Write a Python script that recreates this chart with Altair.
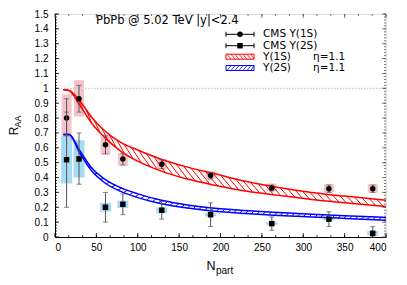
import altair as alt
import pandas as pd
import numpy as np

# ---------------- data ----------------
npart = [14, 29, 61, 82, 129, 188, 262, 331, 384]

raa_1s = [0.80, 0.93, 0.62, 0.525, 0.49, 0.413, 0.33, 0.325, 0.325]
stat_lo_1s = [0.68, 0.84, 0.56, 0.485, 0.46, 0.39, 0.31, 0.30, 0.30]
stat_hi_1s = [0.93, 1.02, 0.68, 0.56, 0.52, 0.435, 0.35, 0.35, 0.35]
sys_lo_1s = [0.64, 0.81, 0.553, 0.48, 0.453, 0.39, 0.307, 0.298, 0.298]
sys_hi_1s = [0.96, 1.055, 0.69, 0.565, 0.525, 0.44, 0.36, 0.355, 0.355]

raa_2s = [0.52, 0.525, 0.20, 0.22, 0.18, 0.15, 0.09, 0.12, 0.025]
stat_lo_2s = [0.20, 0.355, 0.10, 0.15, 0.12, 0.07, 0.045, 0.07, 0.0]
stat_hi_2s = [0.84, 0.70, 0.30, 0.29, 0.24, 0.23, 0.135, 0.17, 0.07]
sys_lo_2s = [0.36, 0.40, 0.17, 0.195, 0.16, 0.14, 0.08, 0.11, 0.01]
sys_hi_2s = [0.68, 0.65, 0.23, 0.245, 0.20, 0.16, 0.10, 0.13, 0.04]

band_x = [10, 17, 30, 45, 60, 80, 100, 130, 160, 190, 230, 270, 310, 350, 400]
band_1s_up = [0.99, 0.985, 0.915, 0.80, 0.715, 0.635, 0.585, 0.52, 0.47, 0.43, 0.375, 0.333, 0.30, 0.275, 0.247]
band_1s_lo = [0.99, 0.985, 0.885, 0.76, 0.67, 0.575, 0.51, 0.44, 0.39, 0.352, 0.31, 0.28, 0.252, 0.23, 0.205]
band_2s_up = [0.69, 0.69, 0.58, 0.46, 0.39, 0.33, 0.29, 0.245, 0.215, 0.195, 0.178, 0.165, 0.153, 0.143, 0.132]
band_2s_lo = [0.69, 0.69, 0.565, 0.44, 0.365, 0.305, 0.265, 0.222, 0.195, 0.175, 0.158, 0.145, 0.135, 0.125, 0.112]

y_major = [round(0.1 * i, 1) for i in range(16)]
y_minor = [round(0.02 * i, 2) for i in range(76)]
x_major = [0, 50, 100, 150, 200, 250, 300, 350, 400]
x_minor = [50 * i / 3 for i in range(25)]

title_text = "PbPb @ 5.02 TeV |y|<2.4"
leg_labels = ["CMS \u03a5(1S)", "CMS \u03a5(2S)", "\u03a5(1S)", "\u03a5(2S)"]
eta_label = "\u03b7=1.1"

# ---------------- layout ----------------
W, H = 331, 223
XMAX, YMAX = 400, 1.5
FONT = "Liberation Sans"
FONT2 = "DejaVu Sans"
RED = "#ff0000"
BLUE = "#0000ff"

xs = alt.Scale(domain=[0, XMAX], nice=False, zero=False, padding=0)
ys = alt.Scale(domain=[0, YMAX], nice=False, zero=False, padding=0)
x_axis = alt.Axis(values=x_major, format="d", ticks=False, grid=False, domainColor="black",
                  domainWidth=1, labelFont=FONT, labelFontSize=10, labelColor="black",
                  labelPadding=5, title=None)
y_axis = alt.Axis(values=y_major, format=".1~f", ticks=False, grid=False, domainColor="black",
                  domainWidth=1, labelFont=FONT, labelFontSize=10, labelColor="black",
                  labelPadding=7, title=None)

pts1 = pd.DataFrame(dict(x=npart, y=raa_1s, slo=stat_lo_1s, shi=stat_hi_1s, blo=sys_lo_1s, bhi=sys_hi_1s))
pts2 = pd.DataFrame(dict(x=npart, y=raa_2s, slo=stat_lo_2s, shi=stat_hi_2s, blo=sys_lo_2s, bhi=sys_hi_2s))
band = pd.DataFrame(dict(x=band_x, u1=band_1s_up, l1=band_1s_lo, u2=band_2s_up, l2=band_2s_lo))
one = pd.DataFrame({"a": [0]})


def hatch(up, lo, step, start, direction):
    px_per_y = H / YMAX
    x_per_px = XMAX / W
    rows = []
    x0 = start
    while x0 < XMAX:
        u = float(np.interp(x0, band_x, up))
        l = float(np.interp(x0, band_x, lo))
        dx = (u - l) * px_per_y * x_per_px
        x1 = x0 + dx
        if x1 <= XMAX and dx > 0.3:
            if direction == "down":
                rows.append(dict(x=x0, y=u, x2=x1, y2=float(np.interp(x1, band_x, lo))))
            else:
                rows.append(dict(x=x0, y=l, x2=x1, y2=float(np.interp(x1, band_x, up))))
        x0 += step
    return pd.DataFrame(rows)


h1 = hatch(band_1s_up, band_1s_lo, 9.0, 20, "down")
h2 = hatch(band_2s_up, band_2s_lo, 7.0, 20, "up")

X = lambda f="x": alt.X(f"{f}:Q", scale=xs, axis=x_axis)
Y = lambda f="y": alt.Y(f"{f}:Q", scale=ys, axis=y_axis)

layers = []

# dotted line at 1
layers.append(alt.Chart(pd.DataFrame({"y": [1.0]})).mark_rule(color="#aaaaaa", strokeDash=[1.5, 1.5], strokeWidth=0.8)
              .encode(y=Y(), x=alt.value(0), x2=alt.value(W)))

# systematic boxes
layers.append(alt.Chart(pts1).mark_bar(size=10, color="#f5c3ca").encode(x=X(), y=Y("blo"), y2="bhi:Q"))
layers.append(alt.Chart(pts2).mark_bar(size=11, color="#a6daf5").encode(x=X(), y=Y("blo"), y2="bhi:Q"))

# bands: hatch + edges
layers.append(alt.Chart(h1).mark_rule(color=RED, strokeWidth=1).encode(x=X(), y=Y(), x2="x2:Q", y2="y2:Q"))
layers.append(alt.Chart(h2).mark_rule(color=BLUE, strokeWidth=1).encode(x=X(), y=Y(), x2="x2:Q", y2="y2:Q"))
for f, c in [("u1", RED), ("l1", RED), ("u2", BLUE), ("l2", BLUE)]:
    layers.append(alt.Chart(band).mark_line(color=c, strokeWidth=1.5, interpolate="monotone")
                  .encode(x=X(), y=Y(f)))

# error bars and points
for df, shape in [(pts1, "circle"), (pts2, "square")]:
    layers.append(alt.Chart(df).mark_rule(color="#555555", strokeWidth=1).encode(x=X(), y=Y("slo"), y2="shi:Q"))
    layers.append(alt.Chart(df).mark_tick(color="#555555", orient="horizontal", size=5, thickness=1)
                  .encode(x=X(), y=Y("slo")))
    layers.append(alt.Chart(df).mark_tick(color="#555555", orient="horizontal", size=5, thickness=1)
                  .encode(x=X(), y=Y("shi")))
    layers.append(alt.Chart(df).mark_point(shape=shape, filled=True, color="black", size=30, opacity=1)
                  .encode(x=X(), y=Y()))

# inward ticks on four sides
for vals, L in [(y_minor, 2), (y_major, 4)]:
    d = pd.DataFrame({"y": vals})
    layers.append(alt.Chart(d).mark_rule(color="black", strokeWidth=0.8).encode(y=Y(), x=alt.value(0), x2=alt.value(L)))
    layers.append(alt.Chart(d).mark_rule(color="#555555", strokeWidth=0.8).encode(y=Y(), x=alt.value(W), x2=alt.value(W - L)))
for vals, L in [(x_minor, 2), (x_major, 4)]:
    d = pd.DataFrame({"x": vals})
    layers.append(alt.Chart(d).mark_rule(color="black", strokeWidth=0.8).encode(x=X(), y=alt.value(H), y2=alt.value(H - L)))
    layers.append(alt.Chart(d).mark_rule(color="#555555", strokeWidth=0.8).encode(x=X(), y=alt.value(0), y2=alt.value(L)))

# title text
layers.append(alt.Chart(one).mark_text(font=FONT2, fontSize=11.5, align="left", baseline="middle", color="black")
              .encode(x=alt.value(41), y=alt.value(7), text=alt.value(title_text)))

# legend
rows_y = [20.3, 31.7, 42.7, 54]
sx0, sx1 = 171, 199
for i, lab in enumerate(leg_labels):
    yy = rows_y[i]
    layers.append(alt.Chart(one).mark_text(font=FONT2, fontSize=10.5, align="left", baseline="middle", color="black")
                  .encode(x=alt.value(208), y=alt.value(yy), text=alt.value(lab)))
    if i < 2:
        layers.append(alt.Chart(one).mark_rule(color="black", strokeWidth=1)
                      .encode(x=alt.value(sx0), x2=alt.value(sx1), y=alt.value(yy)))
        for xe in (sx0, sx1):
            layers.append(alt.Chart(one).mark_rule(color="black", strokeWidth=1)
                          .encode(x=alt.value(xe), y=alt.value(yy - 2.5), y2=alt.value(yy + 2.5)))
        layers.append(alt.Chart(one).mark_point(shape="circle" if i == 0 else "square", filled=True,
                                                color="black", size=30, opacity=1)
                      .encode(x=alt.value((sx0 + sx1) / 2), y=alt.value(yy)))
    else:
        c = RED if i == 2 else BLUE
        layers.append(alt.Chart(one).mark_text(font=FONT2, fontSize=10.5, align="left", baseline="middle", color="black")
                      .encode(x=alt.value(258), y=alt.value(yy), text=alt.value(eta_label)))
        layers.append(alt.Chart(one).mark_rect(fill="white", stroke=c, strokeWidth=1)
                      .encode(x=alt.value(sx0), x2=alt.value(sx1), y=alt.value(yy - 2.5), y2=alt.value(yy + 2.5)))
        for k in range(7):
            a = sx0 + 1 + 4 * k
            b = min(a + 4, sx1)
            if i == 2:
                layers.append(alt.Chart(one).mark_rule(color=c, strokeWidth=0.8)
                              .encode(x=alt.value(a), y=alt.value(yy - 2.5), x2=alt.value(b), y2=alt.value(yy + 2.5)))
            else:
                layers.append(alt.Chart(one).mark_rule(color=c, strokeWidth=0.8)
                              .encode(x=alt.value(a), y=alt.value(yy + 2.5), x2=alt.value(b), y2=alt.value(yy - 2.5)))

# axis titles
layers.append(alt.Chart(one).mark_text(font=FONT, fontSize=12, angle=270, align="center", baseline="middle", color="black")
              .encode(x=alt.value(-41.5), y=alt.value(117), text=alt.value("R")))
layers.append(alt.Chart(one).mark_text(font=FONT, fontSize=9, angle=270, align="center", baseline="middle", color="black")
              .encode(x=alt.value(-37.5), y=alt.value(107.5), text=alt.value("AA")))
layers.append(alt.Chart(one).mark_text(font=FONT, fontSize=12.5, align="center", baseline="middle", color="black")
              .encode(x=alt.value(156), y=alt.value(252), text=alt.value("N")))
layers.append(alt.Chart(one).mark_text(font=FONT, fontSize=10, align="left", baseline="middle", color="black")
              .encode(x=alt.value(161), y=alt.value(256.5), text=alt.value("part")))

chart = alt.layer(*layers).properties(
    width=W, height=H,
    autosize=alt.AutoSizeParams(type="none"),
    padding={"left": 47, "top": 6, "right": 13, "bottom": 40},
).configure_view(stroke="#777777", strokeWidth=1).configure(background="white")

chart.save("out.html", embed_options={"renderer": "svg", "actions": False})
